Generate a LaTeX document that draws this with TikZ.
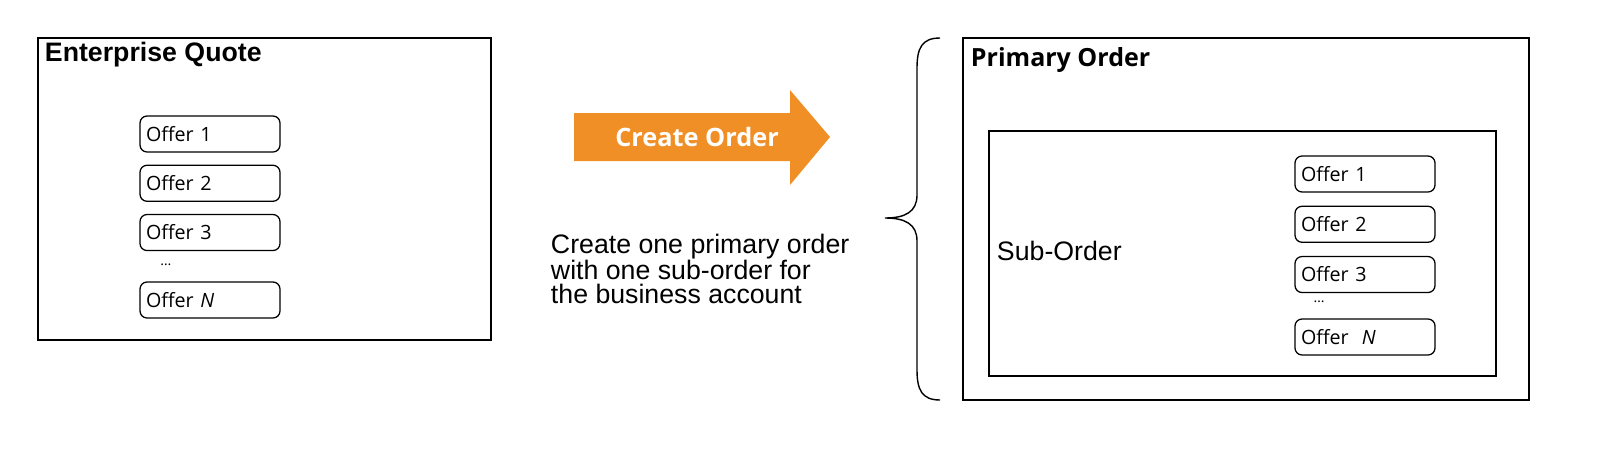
\documentclass[tikz,border=0pt]{standalone}
\usepackage{fontspec}
\setmainfont{Liberation Sans}
\newfontfamily\offerfont{Open Sans}
\usetikzlibrary{positioning}

\tikzset{
    offer/.style={draw, rounded corners=5pt, line width=0.9pt, minimum width=140*0.25mm, minimum height=36*0.25mm, text width=128*0.25mm, align=left, inner sep=1pt, font=\offerfont\fontsize{14}{16}\selectfont},
    frame/.style={draw, line width=0.9pt},
}

\begin{document}
\begin{tikzpicture}[x=0.25mm, y=-0.25mm]

    % quote side
    \draw[frame] (38,38) rectangle (491,340);
    \node[anchor=west, font=\bfseries\fontsize{19}{22}\selectfont] (quote) at (40,55) {Enterprise Quote};
    
    \node[offer] (qo1) at (210,134) {Offer 1};
    \node[offer, below=12*0.25mm of qo1] (qo2) {Offer 2};
    \node[offer, below=12*0.25mm of qo2] (qo3) {Offer 3};
    \node[font=\offerfont] (qdots) at (166,265) {\dots};
    \node[offer] (qoN) at (210,300) {Offer \textit{N}};
    
    % arrow
    \fill[fill={rgb,255:red,240;green,143;blue,38}] (574,113) -- (790,113) -- (790,90) -- (830,137) -- (790,185) -- (790,161) -- (574,161) -- cycle;
    \node[text=white, font=\offerfont\bfseries\fontsize{18}{21}\selectfont] (create) at (697,137) {Create Order};
    
    \node[anchor=north west, align=left, font=\fontsize{19}{17}\selectfont] (descr) at (546,229) {Create one primary order\\with one sub-order for\\the business account};
    
    % brace
    \draw[line width=1pt] (940,38) .. controls (922,38) and (917,48) .. (917,68) -- (917,195) .. controls (917,212) and (905,218) .. (885,218) .. controls (905,218) and (917,224) .. (917,241) -- (917,370) .. controls (917,390) and (922,400) .. (940,400);
    
    % order side
    \draw[frame, line width=1.4pt] (963,38) rectangle (1529,400);
    \node[anchor=west, font=\offerfont\bfseries\fontsize{17.8}{20}\selectfont] (primary) at (966,60) {Primary Order};
    \draw[frame] (989,131) rectangle (1496,376);
    \node[anchor=west, font=\fontsize{19}{22}\selectfont] (sub) at (992,251) {Sub-Order};
    
    \node[offer] (so1) at (1365,174) {Offer 1};
    \node[offer, below=13*0.25mm of so1] (so2) {Offer 2};
    \node[offer, below=13*0.25mm of so2] (so3) {Offer 3};
    \node[font=\offerfont] (sdots) at (1319,302) {\dots};
    \node[offer] (soN) at (1365,337) {Offer ~\textit{N}};

    \pgfresetboundingbox
    \useasboundingbox (0,0) rectangle (1609,451);

\end{tikzpicture}
\end{document}
